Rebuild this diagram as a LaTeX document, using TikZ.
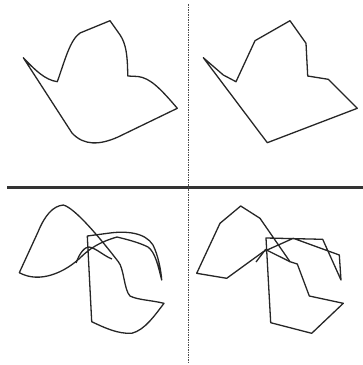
\documentclass[tikz,border=0pt]{standalone}
\usepackage{tikz}

\begin{document}
\begin{tikzpicture}[x=1pt,y=-1pt,
    contour/.style={line width=1.3pt, black!85, line join=round},
    divider/.style={line width=3pt, black!80},
    splitline/.style={line width=0.6pt, black!70, dash pattern=on 1.5pt off 1pt}]
    \useasboundingbox (0,0) rectangle (363,365);

    % Frame
    \draw[divider] (7,187) -- (363,187);
    \draw[splitline] (188.5,4) -- (188.5,363);

    % Top left: smooth outline
    \draw[contour] (23.3,57.7) .. controls (35,70) and (45,80) .. (57.3,81.7)
        .. controls (65,60) and (70,40) .. (80,33) -- (110,20.7) -- (118,32)
        .. controls (124,40) and (127.7,48) .. (127.7,76) -- (138,76.5)
        .. controls (150,78) and (160,88) .. (177.3,108.3) -- (118,137)
        .. controls (100,145) and (84,146) .. (72,133) -- cycle;

    % Top right: polygon
    \draw[contour] (203.3,57.7) -- (223.3,75) -- (236,81.7) -- (255,40.7)
        -- (290,20.7) -- (306,43.3) -- (307.7,76) -- (328.3,79.3)
        -- (357.3,108.3) -- (267.3,142.7) -- cycle;

    % Bottom left: smooth outline
    \draw[contour] (19.3,272.7) -- (38,232) .. controls (45,215) and (53,206) .. (63.3,205)
        .. controls (75,208) and (100,238) .. (118.3,261.7)
        .. controls (124,268) and (124,290) .. (130,296)
        .. controls (138,300) and (150,300) .. (164,303.3)
        .. controls (155,315) and (145,330) .. (131.7,333.3)
        .. controls (118,334) and (105,328) .. (91.7,321.7)
        -- (87.3,236) -- (110,233)
        .. controls (125,231) and (145,232) .. (153,245)
        .. controls (158,255) and (161,270) .. (161.7,280)
        .. controls (158,265) and (155,252) .. (148,247)
        .. controls (138,242) and (125,239) .. (117,237)
        .. controls (100,242) and (90,248) .. (80,258)
        .. controls (65,272) and (40,284) .. cycle;
    \draw[contour] (76,263) .. controls (80,252) and (85,247) .. (89,247)
        .. controls (96,248) and (104,256) .. (112,259);

    % Bottom right: polygon
    \draw[contour] (196.7,273.3) -- (220,223.3) -- (240.7,206) -- (260,218.3)
        -- (290,261.7) -- (297.3,264) -- (309.3,296) -- (343.3,303.3)
        -- (311.7,333.3) -- (270.7,322.7) -- (266,238) -- (322.7,239.3)
        -- (341,280) -- (339.3,255) -- (293.3,238.3) -- (263.3,251.7)
        -- (226.7,278.3) -- cycle;
    \draw[contour] (256,262) -- (265.5,249.5) -- (290,261.7);
\end{tikzpicture}
\end{document}
